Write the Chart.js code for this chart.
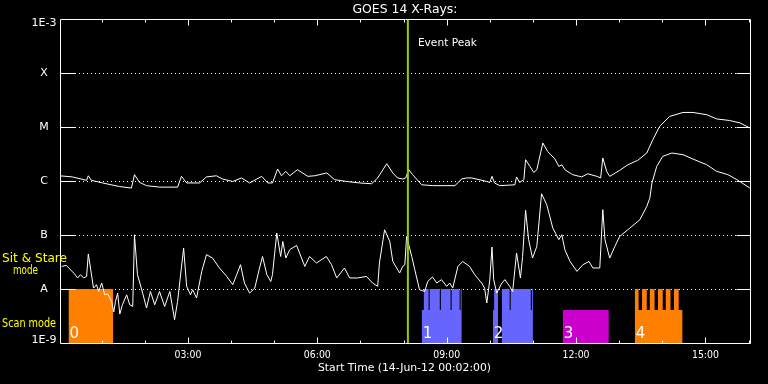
<!DOCTYPE html>
<html>
<head>
<meta charset="utf-8">
<script src="https://cdn.jsdelivr.net/npm/chart.js@4.4.1/dist/chart.umd.min.js"></script>
<style>
  html, body { margin: 0; padding: 0; background: #000; }
  #wrap { width: 768px; height: 384px; }
</style>
</head>
<body>
<div id="wrap"><canvas id="goesChart"></canvas></div>
<script>
// times are hours of 14-Jun-12, flux in W/m^2
var startHour = 0.0333;
var endHour = 16.0333;
var eventPeakHour = 8.10;

var yTickValues = [1e-9, 1e-8, 1e-7, 1e-6, 1e-5, 1e-4, 1e-3];
var yTickLabels = ['1E-9', 'A', 'B', 'C', 'M', 'X', '1E-3'];
var xTickHours = [3, 6, 9, 12, 15];
var xTickLabels = ['03:00', '06:00', '09:00', '12:00', '15:00'];

// 1-8 A channel
var longTimes = [
  0.02, 0.32, 0.65, 0.69, 0.76, 1.02, 1.41, 1.69, 1.76, 1.88,
  2.04, 2.34, 2.76, 2.85, 2.97, 3.27, 3.43, 3.66, 3.80, 4.04,
  4.24, 4.43, 4.71, 4.85, 4.96, 5.08, 5.17, 5.27, 5.36, 5.54,
  5.78, 5.94, 6.22, 6.40, 6.68, 6.98, 7.26, 7.40, 7.61, 7.75,
  7.86, 7.98, 8.05, 8.12, 8.21, 8.42, 8.67, 9.19, 9.35, 9.46,
  9.58, 9.93, 10.00, 10.05, 10.11, 10.23, 10.58, 10.62, 10.69, 10.79,
  10.83, 10.93, 11.02, 11.09, 11.23, 11.34, 11.51, 11.60, 11.67, 11.74,
  11.92, 12.13, 12.27, 12.48, 12.57, 12.62, 12.71, 12.78, 13.01, 13.20,
  13.43, 13.64, 13.78, 13.94, 14.17, 14.48, 14.71, 15.03, 15.26, 15.56,
  15.80, 16.03
];
var longFlux = [
  1.25e-6, 1.19e-6, 1.03e-6, 1.25e-6, 1.03e-6, 9.2e-7, 7.9e-7, 7.4e-7, 1.31e-6, 9.4e-7,
  8.2e-7, 7.7e-7, 7.7e-7, 1.22e-6, 9.2e-7, 9.2e-7, 1.19e-6, 1.25e-6, 1.09e-6, 9.8e-7,
  1.14e-6, 9.2e-7, 1.22e-6, 9.2e-7, 9.2e-7, 1.67e-6, 1.25e-6, 1.51e-6, 1.25e-6, 1.62e-6,
  1.22e-6, 1.25e-6, 1.41e-6, 1.06e-6, 9.8e-7, 9.2e-7, 8.9e-7, 1.14e-6, 2.09e-6, 1.41e-6,
  1.14e-6, 1.09e-6, 1.14e-6, 1.62e-6, 1.31e-6, 8.5e-7, 8.2e-7, 8.2e-7, 1.09e-6, 1.14e-6,
  1.14e-6, 9.8e-7, 9.4e-7, 1.22e-6, 9.2e-7, 8.2e-7, 8.5e-7, 1.19e-6, 9.4e-7, 1.06e-6,
  2.48e-6, 1.86e-6, 1.44e-6, 1.62e-6, 5.06e-6, 3.53e-6, 2.55e-6, 1.86e-6, 2.0e-6, 1.62e-6,
  1.31e-6, 1.19e-6, 1.36e-6, 1.22e-6, 1.14e-6, 2.67e-6, 1.51e-6, 1.22e-6, 1.57e-6, 2.0e-6,
  2.41e-6, 3.3e-6, 5.82e-6, 1.03e-5, 1.57e-5, 1.86e-5, 1.86e-5, 1.69e-5, 1.41e-5, 1.32e-5,
  1.19e-5, 9.6e-6
];

// 0.5-4 A channel
var shortTimes = [
  0.07, 0.18, 0.37, 0.44, 0.51, 0.58, 0.65, 0.69, 0.74, 0.81,
  0.88, 0.93, 1.00, 1.07, 1.14, 1.23, 1.28, 1.32, 1.37, 1.42,
  1.48, 1.58, 1.65, 1.72, 1.76, 1.83, 1.95, 2.04, 2.13, 2.23,
  2.34, 2.46, 2.58, 2.69, 2.76, 2.90, 2.97, 3.06, 3.11, 3.20,
  3.32, 3.43, 3.57, 3.73, 3.90, 4.04, 4.13, 4.22, 4.31, 4.43,
  4.55, 4.66, 4.73, 4.83, 4.92, 4.96, 5.06, 5.15, 5.20, 5.27,
  5.36, 5.52, 5.71, 5.82, 5.98, 6.21, 6.33, 6.45, 6.63, 6.75,
  6.93, 7.14, 7.28, 7.40, 7.44, 7.56, 7.68, 7.75, 7.91, 7.98,
  8.03, 8.07, 8.19, 8.26, 8.37, 8.49, 8.56, 8.67, 8.77, 8.88,
  9.00, 9.07, 9.14, 9.26, 9.37, 9.53, 9.65, 9.81, 9.88, 9.93,
  10.00, 10.05, 10.09, 10.16, 10.28, 10.35, 10.46, 10.53, 10.62, 10.71,
  10.76, 10.83, 10.90, 10.99, 11.09, 11.20, 11.32, 11.46, 11.60, 11.67,
  11.74, 11.86, 12.02, 12.16, 12.30, 12.39, 12.55, 12.62, 12.67, 12.78,
  12.90, 13.01, 13.25, 13.48, 13.64, 13.71, 13.76, 13.87, 14.01, 14.22,
  14.48, 14.71, 15.03, 15.26, 15.52, 15.73, 16.03
];
var shortFlux = [
  2.62e-8, 2.74e-8, 1.9e-8, 1.6e-8, 1.84e-8, 1.6e-8, 1.71e-8, 4.45e-8, 2.45e-8, 1.04e-8,
  1.2e-8, 9.0e-9, 1.29e-8, 7.8e-9, 8.1e-9, 5.9e-9, 3.75e-9, 5.9e-9, 8.4e-9, 3.44e-9,
  5.1e-9, 7.8e-9, 5.1e-9, 4.76e-9, 1.01e-7, 1.84e-8, 8.4e-9, 4.45e-9, 9.0e-9, 5.1e-9,
  9.0e-9, 4.76e-9, 9.0e-9, 2.7e-9, 5.9e-9, 5.74e-8, 1.12e-8, 7.8e-9, 9.7e-9, 6.8e-9,
  2.12e-8, 4.32e-8, 3.75e-8, 2.45e-8, 1.71e-8, 1.2e-8, 1.84e-8, 2.82e-8, 1.29e-8, 8.4e-9,
  1.04e-8, 2.45e-8, 4.0e-8, 1.84e-8, 1.38e-8, 1.84e-8, 1.09e-7, 4.0e-8, 7.6e-8, 3.75e-8,
  5.35e-8, 6.4e-8, 2.62e-8, 4.0e-8, 3.03e-8, 4.0e-8, 2.82e-8, 1.6e-8, 2.45e-8, 1.6e-8,
  1.6e-8, 1.71e-8, 1.29e-8, 1.12e-8, 3.03e-8, 1.25e-7, 7.6e-8, 3.24e-8, 1.98e-8, 2.62e-8,
  2.82e-8, 9.4e-8, 4.0e-8, 2.28e-8, 9.7e-9, 9.0e-9, 1.38e-8, 1.67e-8, 1.29e-8, 1.49e-8,
  1.12e-8, 1.29e-8, 1.04e-8, 2.62e-8, 3.24e-8, 2.62e-8, 1.84e-8, 1.29e-8, 1.04e-8, 5.5e-9,
  1.49e-8, 6.0e-8, 1.49e-8, 8.4e-9, 1.29e-8, 1.49e-8, 1.12e-8, 9.0e-9, 4.64e-8, 1.6e-8,
  4.0e-8, 2.86e-7, 8.2e-8, 3.75e-8, 6.15e-8, 5.82e-7, 3.64e-7, 1.35e-7, 8.2e-8, 1.01e-7,
  5.35e-8, 3.24e-8, 2.12e-8, 2.82e-8, 3.24e-8, 2.45e-8, 2.45e-8, 2.94e-7, 8.2e-8, 3.75e-8,
  6.15e-8, 9.4e-8, 1.35e-7, 1.92e-7, 3.39e-7, 4.8e-7, 9.2e-7, 1.86e-6, 2.86e-6, 3.3e-6,
  3.07e-6, 2.55e-6, 2.0e-6, 1.51e-6, 1.31e-6, 1.06e-6, 7.4e-7
];

// observing mode blocks: sit & stare reaches A level, scan mode is lower
var blockLabels = ['0', '1', '2', '3', '4'];
var block0Times = [0.23, 1.27];
var block0Level = [1e-8, 1e-8];
var block1Times = [8.42, 8.47, 8.58, 8.605, 8.84, 8.865, 9.09, 9.115, 9.30, 9.325, 9.35];
var block1Level = [4.1e-9, 1e-8, 4.1e-9, 1e-8, 4.1e-9, 1e-8, 4.1e-9, 1e-8, 4.1e-9, 1e-8, 1e-8];
var block2Times = [10.07, 10.10, 10.19, 10.28, 10.46, 10.485, 10.95, 10.975, 11.00];
var block2Level = [4.1e-9, 1e-8, 1e-9, 1e-8, 4.1e-9, 1e-8, 4.1e-9, 1e-8, 1e-8];
var block3Times = [11.69, 12.76];
var block3Level = [4.1e-9, 4.1e-9];
var block4Times = [13.36, 13.45, 13.53, 13.64, 13.71, 13.82, 13.90, 14.01, 14.08, 14.19, 14.27, 14.38, 14.47];
var block4Level = [1e-8, 4.1e-9, 1e-8, 4.1e-9, 1e-8, 4.1e-9, 1e-8, 4.1e-9, 1e-8, 4.1e-9, 1e-8, 4.1e-9, 4.1e-9];

function pairs(xs, ys) {
    return xs.map(function(t, i) { return { x: t, y: ys[i] }; });
}

function blockSet(xs, ys, color) {
    return {
        data: pairs(xs, ys),
        stepped: true,
        fill: 'start',
        backgroundColor: color,
        borderColor: 'rgba(0,0,0,0)',
        borderWidth: 1,
        pointRadius: 0,
        order: 2
    };
}

// squeeze text to the width it has in the original plot
function fitText(ctx, str, x, y, width) {
    var w = ctx.measureText(str).width;
    ctx.save();
    ctx.translate(x, y);
    if (width) ctx.scale(width / w, 1);
    ctx.fillText(str, 0, 0);
    ctx.restore();
}

var framePlugin = {
    id: 'idlFrame',
    beforeDatasetsDraw: function(chart) {
        var ctx = chart.ctx, a = chart.chartArea, ys = chart.scales.y;
        ctx.save();
        ctx.strokeStyle = '#ffffff';
        ctx.lineWidth = 1;
        ctx.setLineDash([1, 3]);
        ctx.beginPath();
        yTickValues.slice(1, -1).forEach(function(v) {
            var py = Math.round(ys.getPixelForValue(v)) + 0.5;
            ctx.moveTo(a.left + 15, py);
            ctx.lineTo(a.right - 14, py);
        });
        ctx.stroke();
        ctx.restore();
    },
    afterDatasetsDraw: function(chart) {
        var ctx = chart.ctx, a = chart.chartArea;
        var xs = chart.scales.x, ys = chart.scales.y;
        var l = a.left + 0.5, r = a.right + 0.5, t = a.top + 0.5, b = a.bottom + 0.5;
        ctx.save();
        ctx.strokeStyle = '#ffffff';
        ctx.lineWidth = 1;
        ctx.beginPath();
        ctx.rect(l, t, r - l, b - t);
        // hour ticks, longer every 3 hours
        for (var h = 1; h <= 16; h++) {
            var px = Math.round(xs.getPixelForValue(h)) + 0.5;
            var len = h % 3 === 0 ? 6 : 3;
            ctx.moveTo(px, b); ctx.lineTo(px, b - len);
            ctx.moveTo(px, t); ctx.lineTo(px, t + len);
        }
        yTickValues.slice(1, -1).forEach(function(v) {
            var py = Math.round(ys.getPixelForValue(v)) + 0.5;
            ctx.moveTo(l, py); ctx.lineTo(l + 15, py);
            ctx.moveTo(r, py); ctx.lineTo(r - 14, py);
        });
        ctx.stroke();

        ctx.fillStyle = '#ffffff';
        ctx.textBaseline = 'middle';
        ctx.textAlign = 'center';
        ctx.font = '11px "DejaVu Sans"';
        yTickValues.forEach(function(v, i) {
            var py = ys.getPixelForValue(v);
            py = Math.min(Math.max(py, a.top + 4), a.bottom - 3);
            ctx.fillText(yTickLabels[i], 44, py);
        });
        ctx.font = '10px "DejaVu Sans"';
        xTickHours.forEach(function(hr, i) {
            fitText(ctx, xTickLabels[i], xs.getPixelForValue(hr), 355, 27);
        });
        ctx.font = '11px "DejaVu Sans"';
        fitText(ctx, 'Start Time (14-Jun-12 00:02:00)', 404.5, 368, 173);
        ctx.font = '12px "DejaVu Sans"';
        fitText(ctx, 'GOES 14 X-Rays:', (a.left + a.right) / 2, 10, 105);

        ctx.textAlign = 'left';
        ctx.font = '10.5px "DejaVu Sans"';
        fitText(ctx, 'Event Peak', xs.getPixelForValue(eventPeakHour) + 10, 43, 59);

        ctx.fillStyle = '#ffff00';
        ctx.font = '12px "DejaVu Sans"';
        fitText(ctx, 'Sit & Stare', 2, 259, 65);
        fitText(ctx, 'mode', 13, 271, 25);
        fitText(ctx, 'Scan mode', 2, 324, 54);

        // block numbers
        ctx.fillStyle = '#ffffff';
        ctx.font = '15px "DejaVu Sans"';
        ctx.textBaseline = 'alphabetic';
        var starts = [block0Times[0], block1Times[0], block2Times[0], block3Times[0], block4Times[0]];
        starts.forEach(function(st, i) {
            fitText(ctx, blockLabels[i], xs.getPixelForValue(st) + 1, 338);
        });
        ctx.restore();
    }
};

document.addEventListener('DOMContentLoaded', function() {
    var ctx = document.getElementById('goesChart').getContext('2d');
    new Chart(ctx, {
        type: 'line',
        data: {
            datasets: [
                {
                    data: [{ x: eventPeakHour, y: 1e-9 }, { x: eventPeakHour, y: 1e-3 }],
                    borderColor: '#9bcd00',
                    borderWidth: 2,
                    pointRadius: 0,
                    order: 0
                },
                {
                    data: pairs(longTimes, longFlux),
                    borderColor: '#ffffff',
                    borderWidth: 1,
                    pointRadius: 0,
                    order: 1
                },
                {
                    data: pairs(shortTimes, shortFlux),
                    borderColor: '#ffffff',
                    borderWidth: 1,
                    pointRadius: 0,
                    order: 1
                },
                blockSet(block0Times, block0Level, '#ff8000'),
                blockSet(block1Times, block1Level, '#6666ff'),
                blockSet(block2Times, block2Level, '#6666ff'),
                blockSet(block3Times, block3Level, '#cc00cc'),
                blockSet(block4Times, block4Level, '#ff8000')
            ]
        },
        options: {
            responsive: true,
            maintainAspectRatio: false,
            animation: false,
            layout: { padding: { left: 60, right: 18, top: 19, bottom: 41 } },
            scales: {
                x: { type: 'linear', min: startHour, max: endHour, display: false },
                y: { type: 'logarithmic', min: 1e-9, max: 1e-3, display: false }
            },
            plugins: {
                legend: { display: false },
                tooltip: { enabled: false }
            }
        },
        plugins: [framePlugin]
    });
});
</script>
</body>
</html>
